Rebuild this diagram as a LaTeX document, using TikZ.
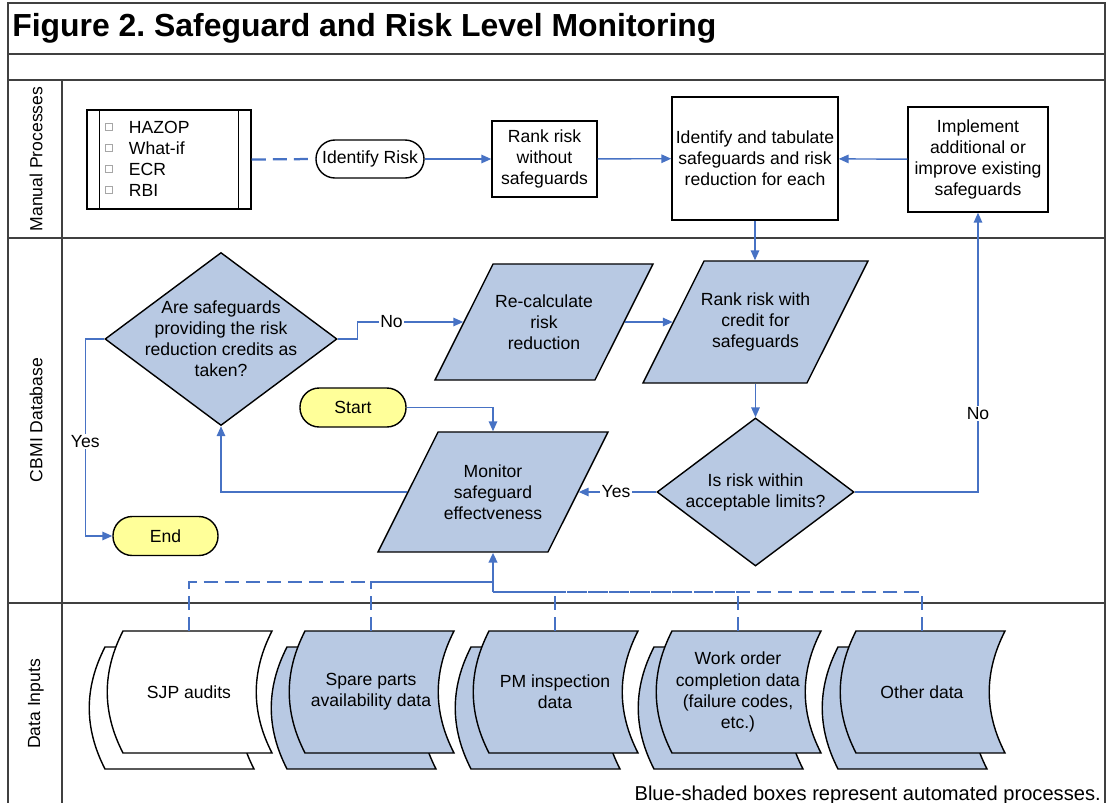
\documentclass[tikz,border=0pt]{standalone}
\usepackage{fontspec}
\setmainfont{Liberation Sans}
\usetikzlibrary{shapes}
\usetikzlibrary{positioning}
\usetikzlibrary{arrows.meta}
\definecolor{autoblue}{RGB}{184,201,227}
\definecolor{termyellow}{RGB}{255,255,153}
\definecolor{linkblue}{RGB}{71,114,196}
\definecolor{framegray}{RGB}{64,64,64}
\tikzset{
    procbox/.style = {rectangle, line width=1pt, draw=black, align=center, fill=white, inner sep=2pt},
    autobox/.style = {trapezium, trapezium left angle=63.4, trapezium right angle=116.6, trapezium stretches body, line width=1pt, draw=black, fill=autoblue, inner xsep=0pt},
    decnode/.style = {diamond, line width=1pt, draw=black, fill=autoblue, inner sep=0pt},
    termnode/.style = {rectangle, rounded corners=0.48cm, line width=1pt, draw=black, fill=termyellow, align=center},
    datanode/.style = {align=center, minimum width=4.175cm, minimum height=3.05cm, inner sep=0pt},
    datashape/.style = {line width=1pt, draw=black},
    chkbox/.style = {rectangle, draw=gray!70, line width=0.5pt, minimum size=0.18cm, inner sep=0pt},
    lanelabel/.style = {rotate=90},
    frame/.style = {line width=1pt, framegray},
    lbl/.style = {fill=white, text=black, inner sep=1pt},
    edgeb/.style = {-{Triangle[length=7pt,width=6pt]}, line width=1pt, linkblue}, % flow
    edged/.style = {line width=1.6pt, linkblue, dash pattern=on 10pt off 5pt} % data feed
}

\begin{document}
\frenchspacing
\begin{tikzpicture}[x=0.025cm, y=-0.025cm, font=\fontsize{12.5}{15}\selectfont]
  \useasboundingbox (0,0) rectangle (1106,803);

  % frame and lanes
  \draw[frame] (8,803) -- (8,3) -- (1105,3) -- (1105,803);
  \draw[frame] (8,54) -- (1105,54);
  \draw[frame] (8,80) -- (1105,80);
  \draw[frame] (8,238) -- (1105,238);
  \draw[frame] (8,603) -- (1105,603);
  \draw[frame] (62,80) -- (62,803);
  \node[anchor=base west, inner sep=0pt, font=\fontsize{22.7}{26}\selectfont\bfseries] (title) at (12,36) {Figure 2. Safeguard and Risk Level Monitoring};
  \node[lanelabel] (lanemp) at (36,159) {Manual Processes};
  \node[lanelabel] (lanedb) at (36,420) {CBMI Database};
  \node[lanelabel] (lanedi) at (36,704) {Data Inputs};

  % manual processes
  \node[procbox, minimum width=4.1cm, minimum height=2.475cm] (hazop) at (169,159.5) {};
  \draw[line width=1pt] ([xshift=0.325cm]hazop.north west) -- ([xshift=0.325cm]hazop.south west);
  \draw[line width=1pt] ([xshift=-0.325cm]hazop.north east) -- ([xshift=-0.325cm]hazop.south east);
  \foreach \i/\y/\txt in {1/127/HAZOP, 2/148/What-if, 3/169/ECR, 4/190/RBI} {
    \node[chkbox] (chk\i) at (108.5,\y) {};
    \node[anchor=west] (item\i) at (124,\y) {\txt};
  }
  \node[termnode, fill=white, rounded corners=0.475cm, minimum width=2.7cm, minimum height=0.95cm, inner sep=0pt] (idrisk) at (370,159) {Identify Risk};
  \node[procbox, minimum width=2.625cm, minimum height=1.9cm] (rankno) at (544.5,159) {Rank risk\\without\\safeguards};
  \node[procbox, minimum width=4.15cm, minimum height=3.075cm] (tab) at (755,158.5) {Identify and tabulate\\safeguards and risk\\reduction for each};
  \node[procbox, minimum width=3.5cm, minimum height=2.625cm] (impl) at (978,159.5) {Implement\\additional or\\improve existing\\safeguards};

  % CBMI database
  \node[autobox, minimum width=5.45cm, inner ysep=1.45cm, label={[align=center]center:Re-calculate\\risk\\reduction}] (recalc) at (544,322) {};
  \node[autobox, minimum width=5.625cm, inner ysep=1.525cm, label={[align=center]center:Rank risk with\\credit for\\safeguards}] (rankwith) at (755.5,322) {};
  \node[decnode, minimum width=5.8cm, minimum height=4.325cm, label={[align=center]center:Are safeguards\\providing the risk\\reduction credits as\\taken?}] (qsafe) at (221,339) {};
  \node[termnode, minimum width=2.65cm, minimum height=0.975cm] (start) at (353,407.5) {Start};
  \node[termnode, minimum width=2.625cm, minimum height=0.975cm] (fin) at (165.5,536) {End};
  \node[autobox, minimum width=5.75cm, inner ysep=1.5cm, label={[align=center]center:Monitor\\safeguard\\effectveness}] (monitor) at (493,492) {};
  \node[decnode, minimum width=4.925cm, minimum height=3.7cm, label={[align=center]center:Is risk within\\acceptable limits?}] (qrisk) at (755.5,492) {};

  % data inputs
  \foreach \nm/\cx/\col/\txt in {sjp/189/white/{SJP audits}, spare/371/autoblue/{Spare parts\\availability data}, pm/555/autoblue/{PM inspection\\data}, wo/738/autoblue/{Work order\\completion data\\(failure codes,\\etc.)}, oth/922/autoblue/{Other data}} {
    \draw[datashape, fill=\col] ({\cx-84},647) -- ({\cx+65},647) .. controls ({\cx+44},688) and ({\cx+44},728) .. ({\cx+65},769) -- ({\cx-84},769) .. controls ({\cx-105},728) and ({\cx-105},688) .. ({\cx-84},647) -- cycle;
    \draw[datashape, fill=\col] ({\cx-66},631) -- ({\cx+83},631) .. controls ({\cx+62},672) and ({\cx+62},712) .. ({\cx+83},753) -- ({\cx-66},753) .. controls ({\cx-87},712) and ({\cx-87},672) .. ({\cx-66},631) -- cycle;
    \node[datanode] (\nm) at (\cx,692) {\txt};
  }
  \node[anchor=base east, inner sep=0pt, font=\fontsize{14.3}{16}\selectfont] (note) at (1101,800) {Blue-shaded boxes represent automated processes.};

  % connectors
  \draw[edged] (hazop.east) -- (idrisk.west);
  \draw[edgeb] (idrisk) -- (rankno);
  \draw[edgeb] (rankno) -- (tab);
  \draw[edgeb] (impl) -- (tab);
  \draw[edgeb] (tab.south) -- (tab.south |- rankwith.north);
  \draw[edgeb] (recalc.right side) -- (rankwith.left side);
  \draw[edgeb] (rankwith.center |- rankwith.south) -- (qrisk.north);
  \draw[edgeb] (qrisk.west) -- node[lbl, pos=0.52] {Yes} (monitor.right side);
  \draw[edgeb] (qrisk.east) -| node[lbl, pos=0.64] {No} (impl.south);
  \draw[edgeb] (qsafe.east) -- ++(20,0) |- node[lbl, pos=0.66] {No} (recalc.left side);
  \draw[edgeb] (qsafe.west) -- ++(-19,0) |- node[lbl, pos=0.26] {Yes} (fin.west);
  \draw[edgeb] (monitor.left side) -| (qsafe.south);
  \draw[edgeb] (start.east) -| (monitor.center |- monitor.north);

  \coordinate (jl) at (493,582);
  \coordinate (jr) at (493,592);
  \draw[edged] (sjp.north) |- (jl);
  \draw[edged] (spare.north) |- (jl);
  \draw[edged] (pm.north) |- (jr);
  \draw[edged] (wo.north) |- (jr);
  \draw[edged] (oth.north) |- (jr);
  \draw[edgeb, line width=1.6pt] (jr) -- (jr |- monitor.south);
\end{tikzpicture}
\end{document}
